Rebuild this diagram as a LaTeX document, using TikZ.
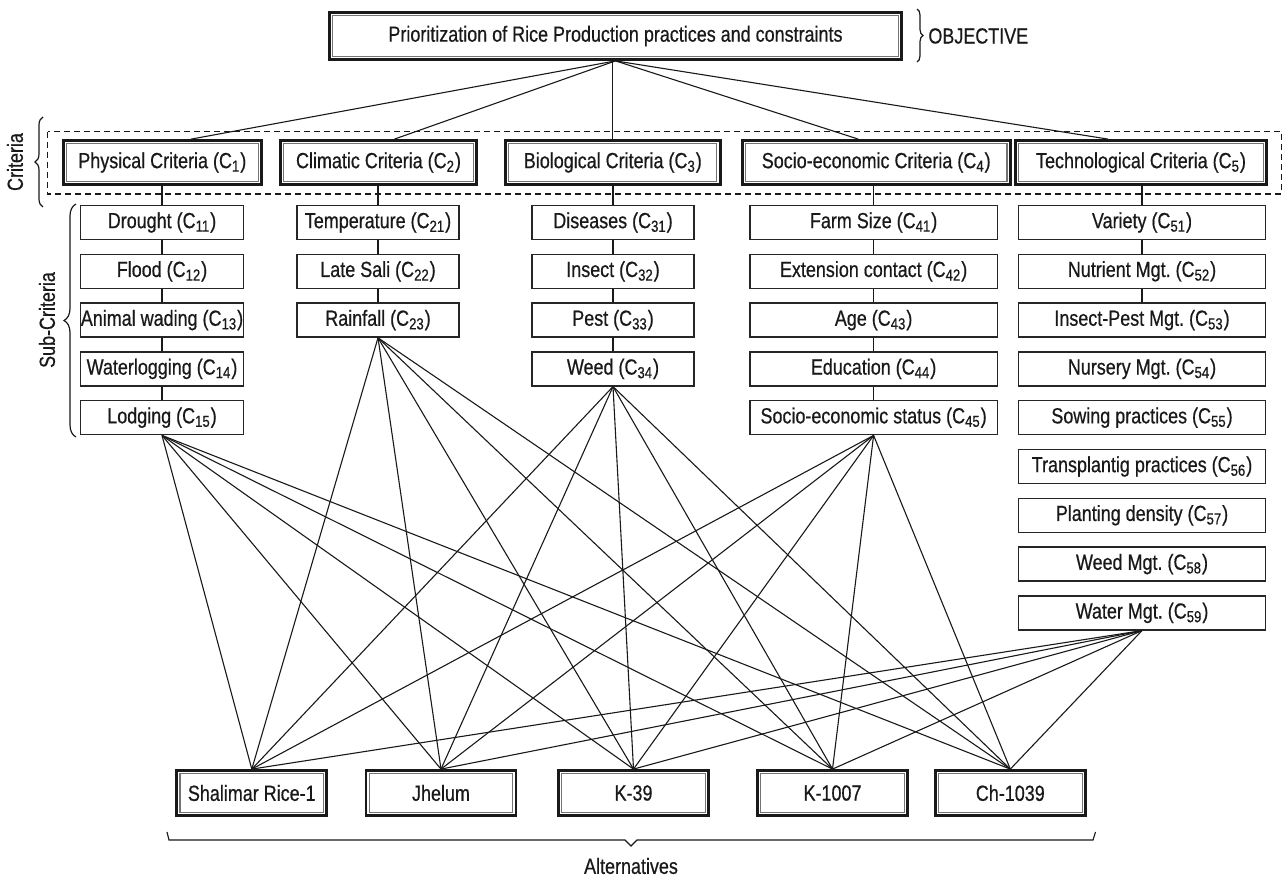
\documentclass[tikz,border=0pt]{standalone}
\usepackage{fontspec}
\setmainfont[FakeStretch=0.82,FakeBold=0.6]{Liberation Sans}
\usetikzlibrary{decorations.pathreplacing,calc}
\newcommand\csub[1]{(C\textsubscript{#1})}
\begin{document}
\begin{tikzpicture}[x=0.5pt,y=-0.5pt,
  font=\fontsize{10.95}{13}\selectfont,
  dbox/.style={draw=black!90, line width=1.4pt, inner sep=0pt, text=black!90},
  sbox/.style={draw=black!85, line width=0.7pt, inner sep=0pt, minimum height=17pt, text=black!90},
  conn/.style={line width=0.55pt, draw=black!90},
  innerline/.style={draw=black!55, line width=0.55pt},
  brc/.style={decorate, line width=0.6pt, draw=black!90},
  lbl/.style={text=black!90, inner sep=0pt}
]
\useasboundingbox (0,0) rectangle (1284,881);

% objective
\node[dbox, minimum width=286pt, minimum height=23.5pt] (obj) at (615.5,36) {Prioritization of Rice Production practices and constraints};
\draw[brc, decoration={brace, amplitude=3pt}] (917,9) -- (917,62);
\node[lbl, anchor=west] (lobj) at (928,36) {OBJECTIVE};

% criteria
\draw[line width=0.6pt, draw=black!90, dash pattern=on 3pt off 2pt] (47.7,131.7) rectangle (1281.5,194);
\node[dbox, minimum width=99pt, minimum height=22pt] (c1) at (162.3,162.5) {Physical Criteria \csub{1}};
\node[dbox, minimum width=98pt, minimum height=22pt] (c2) at (378.5,162.5) {Climatic Criteria \csub{2}};
\node[dbox, minimum width=107.3pt, minimum height=22pt] (c3) at (612.8,162.5) {Biological Criteria \csub{3}};
\node[dbox, minimum width=134pt, minimum height=22pt] (c4) at (876.2,162.5) {Socio-economic Criteria \csub{4}};
\node[dbox, minimum width=125.5pt, minimum height=22pt] (c5) at (1141,162.5) {Technological Criteria \csub{5}};
\draw[brc, decoration={brace, amplitude=4pt}] (43,207) -- (43,117);
\node[lbl, rotate=90] (lcrit) at (15,162) {Criteria};

% sub-criteria
\foreach \i/\t in {1/Drought,2/Flood,3/Animal wading,4/Waterlogging,5/Lodging}
  \node[sbox, minimum width=81.6pt] (s1\i) at (162,{222.5+48.8*(\i-1)}) {\t\ \csub{1\i}};
\foreach \i/\t in {1/Temperature,2/Late Sali,3/Rainfall}
  \node[sbox, minimum width=81pt] (s2\i) at (378,{222.5+48.8*(\i-1)}) {\t\ \csub{2\i}};
\foreach \i/\t in {1/Diseases,2/Insect,3/Pest,4/Weed}
  \node[sbox, minimum width=81pt] (s3\i) at (613,{222.5+48.8*(\i-1)}) {\t\ \csub{3\i}};
\foreach \i/\t in {1/Farm Size,2/Extension contact,3/Age,4/Education,5/Socio-economic status}
  \node[sbox, minimum width=123.8pt] (s4\i) at (873.6,{222.5+48.8*(\i-1)}) {\t\ \csub{4\i}};
\foreach \i/\t in {1/Variety,2/Nutrient Mgt.,3/Insect-Pest Mgt.,4/Nursery Mgt.,5/Sowing practices,6/Transplantig practices,7/Planting density,8/Weed Mgt.,9/Water Mgt.}
  \node[sbox, minimum width=123.6pt] (s5\i) at (1142,{222.5+48.8*(\i-1)}) {\t\ \csub{5\i}};
\draw[brc, decoration={brace, amplitude=6pt}] (76,437) -- (76,204);
\node[lbl, rotate=90] (lsub) at (47,320) {Sub-Criteria};

% alternatives
\node[dbox, minimum width=75pt, minimum height=22.5pt] (a1) at (251.8,793) {Shalimar Rice-1};
\node[dbox, minimum width=75pt, minimum height=22.5pt] (a2) at (441,793) {Jhelum};
\node[dbox, minimum width=75pt, minimum height=22.5pt] (a3) at (633.5,793) {K-39};
\node[dbox, minimum width=75pt, minimum height=22.5pt] (a4) at (832.5,793) {K-1007};
\node[dbox, minimum width=75pt, minimum height=22.5pt] (a5) at (1010.3,793) {Ch-1039};
\draw[conn] (167,832) -- (169,840) -- (625,840) -- (631,846) -- (637,840) -- (1093,840) -- (1095.5,832);
\node[lbl] (lalt) at (631,866) {Alternatives};

% inner gray lines of double boxes
\foreach \n in {obj,c1,c2,c3,c4,c5,a1,a2,a3,a4,a5}{
  \draw[innerline] ($(\n.north west)+(2.3pt,-2.3pt)$) rectangle ($(\n.south east)+(-2.3pt,2.3pt)$);
}

% objective to criteria
\draw[conn] (obj.south) -- ([xshift=14.5pt]c1.north);
\draw[conn] (obj.south) -- ([xshift=8pt]c2.north);
\draw[conn] (c3.north |- obj.south) -- (c3.north);
\draw[conn] (obj.south) -- ([xshift=-9pt]c4.north);
\draw[conn] (obj.south) -- ([xshift=-16.5pt]c5.north);

% criteria to sub-criteria chains
\draw[conn] (s11.north |- c1.south) -- (s11.north);
\draw[conn] (s21.north |- c2.south) -- (s21.north);
\draw[conn] (s31.north |- c3.south) -- (s31.north);
\draw[conn] (s41.north |- c4.south) -- (s41.north);
\draw[conn] (s51.north |- c5.south) -- (s51.north);
\foreach \a/\b in {s11/s12,s12/s13,s13/s14,s14/s15,s21/s22,s22/s23,s31/s32,s32/s33,s33/s34,s41/s42,s42/s43,s43/s44,s44/s45,s51/s52,s52/s53}
  \draw[conn] (\a.south) -- (\b.north);

% sub-criteria to alternatives
\foreach \s in {s15,s23,s34,s45,s59}
  \foreach \a in {a1,a2,a3,a4,a5}
    \draw[conn] (\s.south) -- (\a.north);
\end{tikzpicture}
\end{document}
